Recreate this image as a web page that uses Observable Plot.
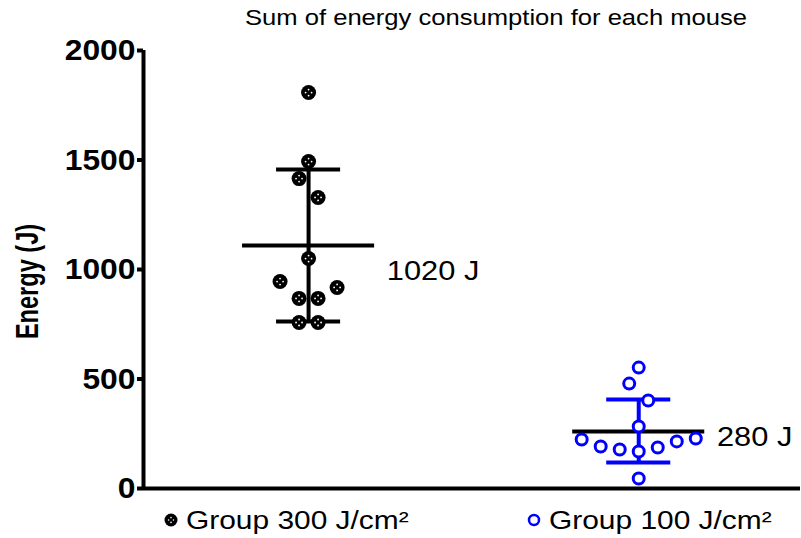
<!DOCTYPE html>
<html><head><meta charset="utf-8">
<script src="https://cdn.jsdelivr.net/npm/d3@7"></script>
<script src="https://cdn.jsdelivr.net/npm/@observablehq/plot@0.6"></script>
<style>
body{margin:0;background:#fff;font-family:"Liberation Sans",Arial,sans-serif;}
#wrap{position:relative;width:801px;height:538px;overflow:hidden;}
#title{position:absolute;left:0;top:6px;width:801px;font-size:21.5px;color:#000;white-space:nowrap;}
#title span{position:absolute;left:245px;transform:scaleX(1.19);transform-origin:left center;}
#chart{position:absolute;left:0;top:36px;}
#legend{position:absolute;left:0;top:503px;width:801px;height:35px;font-size:26px;}
.item{position:absolute;top:0;display:flex;align-items:center;white-space:nowrap;}
.item span{display:inline-block;transform:scaleX(1.15);transform-origin:left center;}
#chart svg{font-family:"Liberation Sans",Arial,sans-serif;overflow:visible;}
</style>
</head><body>
<div id="wrap">
<div id="title"><span>Sum of energy consumption for each mouse</span></div>
<div id="chart"></div>
<div id="legend"></div>
</div>
<script>
const groups = ["Group 300 J/cm²", "Group 100 J/cm²"];
const groupColors = ["#000000", "#0000ff"];
const energy300 = [1808, 1493, 1415, 1329, 1050, 945, 918, 868, 868, 758, 758];
const slot300   = [0, 0, -0.5, 0.5, 0, -1.5, 1.5, -0.5, 0.5, -0.5, 0.5];
const energy100 = [552, 479, 402, 283, 224, 192, 178, 169, 187, 215, 228, 46];
const slot100   = [0, -0.5, 0.5, 0, -3, -2, -1, 0, 1, 2, 3, 0];
const meanLine  = [1110, 260];
const sdLow     = [763, 119];
const sdHigh    = [1457, 406];
const meanLabels = ["1020 J", "280 J"];
const meanLabelY = [995, 233];
const yTicks = [0, 500, 1000, 1500, 2000];

const SLOT = 0.0576; // horizontal spacing of points, in group units
const pts300 = energy300.map((v, i) => ({g: 0, x: 0 + slot300[i] * SLOT, y: v}));
const pts100 = energy100.map((v, i) => ({g: 1, x: 1 + slot100[i] * SLOT, y: v}));
const summary = groups.map((name, i) => ({g: i, name, mean: meanLine[i], lo: sdLow[i], hi: sdHigh[i], label: meanLabels[i], ly: meanLabelY[i], color: groupColors[i]}));

const MEANW = 0.2, CAPW = 0.097;
const patt = [[0,-3],[0,3],[-3,0],[3,0]];

const plot = Plot.plot({
  width: 801, height: 470,
  marginLeft: 143, marginRight: 1, marginTop: 14, marginBottom: 18,
  x: {domain: [-0.5, 1.49], axis: null},
  y: {domain: [0, 2000], axis: null},
  marks: [
    Plot.ruleY([0], {strokeWidth: 4, stroke: "#000"}),
    Plot.ruleX([-0.5], {y1: 0, y2: 2000, strokeWidth: 4, stroke: "#000"}),
    Plot.axisY({ticks: yTicks, tickSize: 6, tickPadding: 2, strokeWidth: 4, fontSize: 30, fontWeight: "bold", label: null, tickFormat: d => String(d), className: "ytick"}),
    Plot.text(["Energy (J)"], {frameAnchor: "left", textAnchor: "middle", rotate: -90, dx: -115, dy: 12, fontSize: 31, fontWeight: "bold", fill: "#000", className: "ylab"}),
    // mean lines (black)
    Plot.ruleY(summary, {y: "mean", x1: d => d.g - MEANW, x2: d => d.g + MEANW, stroke: "#000", strokeWidth: 4}),
    // SD error bars
    Plot.ruleX(summary, {x: "g", y1: "lo", y2: "hi", stroke: "color", strokeWidth: 4}),
    Plot.ruleY(summary, {y: "lo", x1: d => d.g - CAPW, x2: d => d.g + CAPW, stroke: "color", strokeWidth: 4}),
    Plot.ruleY(summary, {y: "hi", x1: d => d.g - CAPW, x2: d => d.g + CAPW, stroke: "color", strokeWidth: 4}),
    // points
    Plot.dot(pts300, {x: "x", y: "y", r: 7.5, fill: "#000", stroke: "none"}),
    ...patt.map(([dx, dy]) => Plot.dot(pts300, {x: "x", y: "y", r: 0.9, fill: "#fff", dx, dy})),
    Plot.dot(pts100, {x: "x", y: "y", r: 5.5, fill: "#fff", stroke: "#0000ff", strokeWidth: 3}),
    // labels
    Plot.text(summary, {x: d => d.g + 0.237, y: "ly", text: "label", textAnchor: "start", fontSize: 28, fill: "#000", className: "mlab"})
  ]
});
plot.querySelectorAll("text").forEach(t => { if (!t.getAttribute("fill")) t.setAttribute("fill", "#000"); });
document.getElementById("chart").appendChild(plot);

// horizontal stretch of the text, as in the reference
function stretch(sel, k) {
  plot.querySelectorAll(sel).forEach(t => {
    const L = t.getComputedTextLength();
    if (L > 0) { t.setAttribute("textLength", L * k); t.setAttribute("lengthAdjust", "spacingAndGlyphs"); }
  });
}
stretch(".ytick text", 1.06);
stretch(".mlab text", 1.1);
stretch(".ylab text", 0.76);

// legend
const legend = document.getElementById("legend");
const legendX = [163, 526];
groups.forEach((name, i) => {
  const div = document.createElement("div");
  div.className = "item";
  div.style.left = legendX[i] + "px";
  const sym = i === 0
    ? `<svg width="16" height="34"><circle cx="8" cy="17" r="6.5" fill="#000"/>${patt.map(([dx,dy])=>`<circle cx="${8+dx*0.8}" cy="${17+dy*0.8}" r="0.8" fill="#fff"/>`).join("")}</svg>`
    : `<svg width="16" height="34"><circle cx="8" cy="17" r="5" fill="#fff" stroke="#0000ff" stroke-width="2.5"/></svg>`;
  div.innerHTML = sym + `<span style="margin-left:7px">${name}</span>`;
  legend.appendChild(div);
});
</script>
</body></html>
